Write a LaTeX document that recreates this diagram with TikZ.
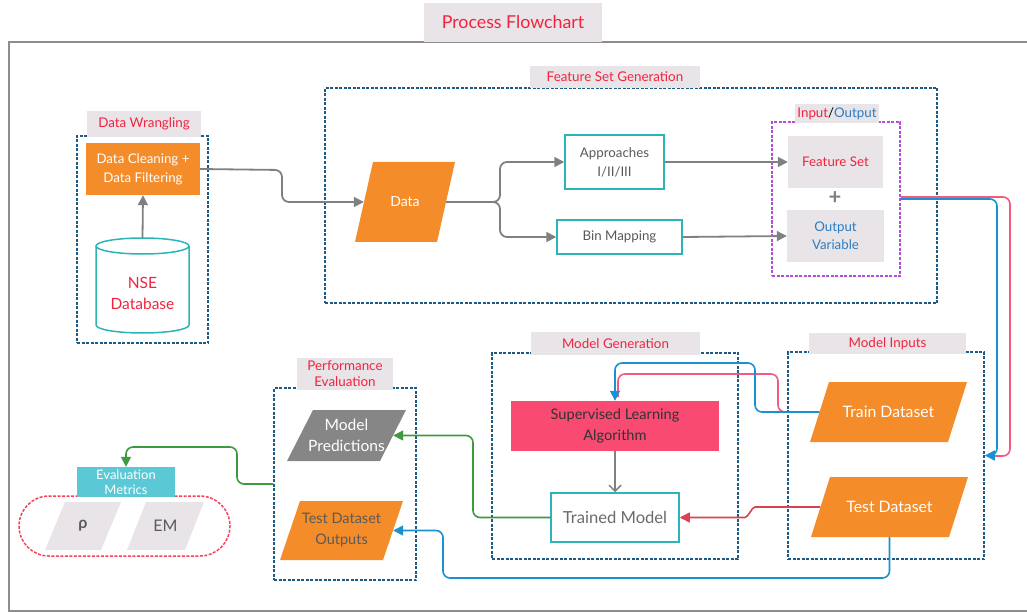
\documentclass[tikz,border=0pt]{standalone}
\usepackage{fontspec}
\setmainfont{Lato}
\usetikzlibrary{shapes.geometric,arrows.meta,calc}
\definecolor{dashblue}{HTML}{1D5A85}
\definecolor{orng}{HTML}{F48C2A}
\definecolor{tealc}{HTML}{2BB5B8}
\definecolor{lgray}{HTML}{E8E4E8}
\definecolor{redt}{HTML}{F2233F}
\definecolor{bluet}{HTML}{2D7DC4}
\definecolor{purp}{HTML}{B24FD6}
\definecolor{slafill}{HTML}{F94A72}
\definecolor{greenl}{HTML}{3E9A3E}
\definecolor{bluel}{HTML}{1A91D1}
\definecolor{pinkl}{HTML}{F45A7D}
\definecolor{redl}{HTML}{D9424F}
\definecolor{cyanc}{HTML}{5BC8D5}
\definecolor{grayl}{HTML}{808080}
\definecolor{txtg}{HTML}{5A5A5A}
\newcommand{\fs}[2]{\fontsize{#1}{#2}\selectfont}
\tikzset{
  dashbox/.style={draw=dashblue, line width=1.5pt, dash pattern=on 3pt off 1.5pt, inner sep=0pt},
  lblbox/.style={fill=lgray, text=redt, inner sep=0pt, font=\fs{13.4}{16}, align=center},
  para/.style 2 args={inner sep=0pt, align=center, path picture={
     \fill[#1] (path picture bounding box.south west) -- ([xshift=#2]path picture bounding box.north west)
       -- (path picture bounding box.north east) -- ([xshift=-#2]path picture bounding box.south east) -- cycle;}},
  tealbox/.style={draw=tealc, line width=1.5pt, fill=white, inner sep=0pt, align=center, text=txtg},
  gline/.style={draw=grayl, line width=1.8pt, rounded corners=7pt},
  garrow/.style={gline, -{Triangle[length=10pt,width=10pt]}},
  tip/.style={-{Triangle[length=10pt,width=10pt]}},
}
\begin{document}
\begin{tikzpicture}[x=1pt,y=-1pt]
\useasboundingbox (0,0) rectangle (1027,612);
% outer frame
\draw[draw=grayl!90, line width=2pt] (1030,42) -- (9,42) -- (9,611) -- (1030,611);
\node[fill=lgray, text=redt, inner sep=0pt, minimum width=178, minimum height=39, font=\fs{17.8}{20}] (title) at (513,22.5) {Process Flowchart};

% Feature Set Generation
\node[dashbox, minimum width=612, minimum height=215] (fsg) at (631,195.5) {};
\node[lblbox, minimum width=170, minimum height=22] (fsgl) at (615,77) {Feature Set Generation};

% Data Wrangling
\node[dashbox, minimum width=131, minimum height=207] (dw) at (142.5,239.5) {};
\node[lblbox, minimum width=114, minimum height=26] (dwl) at (144,124) {Data Wrangling};
\node[fill=orng, text=white, inner sep=0pt, minimum width=114, minimum height=52, align=center, font=\fs{13.3}{19}] (clean) at (143,169) {Data Cleaning +\\Data Filtering};
% cylinder
\draw[draw=tealc, line width=1.5pt, fill=white] (96,246) -- (96,325) arc[start angle=180, end angle=0, x radius=46.5, y radius=8] -- (189,246);
\draw[draw=tealc, line width=1.5pt, fill=white] (142.5,246) ellipse [x radius=46.5, y radius=8];
\coordinate (dbtop) at (142.5,238);
\node[text=redt, align=center, font=\fs{15.5}{21}] (db) at (142.5,293) {NSE\\Database};
\draw[garrow] (dbtop) -- (clean.south);

% Data and branches
\node[para={orng}{18pt}, text=white, minimum width=100, minimum height=80, font=\fs{14}{16}] (data) at (405,202) {Data};
\node[tealbox, minimum width=99, minimum height=54, font=\fs{13.3}{19}] (app) at (614.5,162) {Approaches\\I/II/III};
\node[tealbox, minimum width=125, minimum height=34, font=\fs{13.3}{15}] (bin) at (619.5,237) {Bin Mapping};
\draw[garrow] (clean.east) -- (282,170) |- ([xshift=9pt]data.west);
\draw[garrow] ([xshift=-9pt]data.east) -- (500,202) |- (app.west);
\draw[garrow] ([xshift=-9pt]data.east) -- (500,202) |- (bin.west);

% Input / Output
\node[draw=purp, line width=1.5pt, dash pattern=on 3pt off 1.5pt, minimum width=128, minimum height=154, inner sep=0pt] (io) at (836,199) {};
\node[fill=lgray, inner sep=0pt, minimum width=84, minimum height=19, font=\fs{13.3}{15}] (iol) at (837,113.5) {\textcolor{redt}{Input}/\textcolor{bluet}{Output}};
\node[fill=lgray, text=redt, inner sep=0pt, minimum width=95, minimum height=52, font=\fs{13.3}{15}] (fs) at (835.5,162) {Feature Set};
\node[fill=lgray, text=bluet, inner sep=0pt, minimum width=97, minimum height=52, align=center, font=\fs{13.3}{18}] (ov) at (835.5,236) {Output\\Variable};
\node[text=grayl, font=\fs{22}{22}\bfseries, inner sep=0pt] (plus) at (835,198) {+};
\draw[garrow] (app.east) -- (fs.west);
\draw[garrow] (bin.east) -- (ov.west);

% Model Inputs
\node[dashbox, minimum width=196, minimum height=207] (mi) at (886,455.5) {};
\node[lblbox, minimum width=157, minimum height=21] (mil) at (887.5,343.5) {Model Inputs};
\node[para={orng}{19pt}, text=white, minimum width=157, minimum height=60, font=\fs{15.8}{17}] (train) at (888.5,412) {Train Dataset};
\node[para={orng}{19pt}, text=white, minimum width=157, minimum height=60, font=\fs{15.8}{17}] (test) at (889.5,507) {Test Dataset};

% Model Generation
\node[dashbox, minimum width=246, minimum height=206] (mg) at (615,456) {};
\node[lblbox, minimum width=169, minimum height=23] (mgl) at (615.5,343.5) {Model Generation};
\node[fill=slafill, text=black!80, inner sep=0pt, minimum width=208, minimum height=50, align=center, font=\fs{14.6}{21}] (sla) at (615,426) {Supervised Learning\\Algorithm};
\node[tealbox, minimum width=128, minimum height=49, font=\fs{16.6}{18}, text=txtg!90] (tm) at (615,517.5) {Trained Model};
\draw[draw=grayl, line width=1.5pt, -{Straight Barb[length=6pt,width=12pt]}] (sla.south) -- (tm.north);

% Performance Evaluation
\node[dashbox, minimum width=142, minimum height=192] (pe) at (345,484) {};
\node[lblbox, minimum width=96, minimum height=32, font=\fs{13.4}{16}] (pel) at (345,374) {Performance\\Evaluation};
\node[para={grayl!95}{26pt}, text=white, minimum width=119, minimum height=51, font=\fs{15.6}{21}] (mp) at (346.5,435.5) {Model\\Predictions};
\node[para={orng}{20pt}, text=txtg, minimum width=123, minimum height=59, font=\fs{14.5}{21}] (tdo) at (341.5,530.5) {Test Dataset\\Outputs};

% Evaluation metrics
\node[draw=redt!85, line width=1.5pt, dash pattern=on 3pt off 1.5pt, rounded corners=30pt, minimum width=211, minimum height=60, inner sep=0pt] (metr) at (124.5,526) {};
\node[para={lgray}{20pt}, text=txtg, minimum width=76, minimum height=48, font=\fs{16}{18}\bfseries] (rho) at (83,526) {ρ};
\node[para={lgray}{19pt}, text=txtg, minimum width=77, minimum height=48, font=\fs{16}{18}] (em) at (165.5,526) {EM};
\node[fill=cyanc, text=white, inner sep=0pt, minimum width=98, minimum height=30, align=center, font=\fs{13}{15}] (emm) at (126,482) {Evaluation\\Metrics};

% connectors coloured
\draw[draw=pinkl, line width=1.6pt, rounded corners=7pt] ([yshift=2pt]io.east) -- (1010,197) -- (1010,456) -- (995,456);
\draw[draw=bluel, line width=1.6pt, rounded corners=7pt, tip] (io.east) -- (997,199) |- (mi.east);
\draw[draw=pinkl, line width=1.6pt, rounded corners=7pt] ([xshift=9.5pt]train.west) -- (778,412) -- (778,374) -- (618,374) -- (618,397);
\draw[draw=bluel, line width=1.6pt, rounded corners=7pt, tip] ([xshift=9.5pt]train.west) -- (755,412) |- (615,363) -- (sla.north);
\draw[draw=redl, line width=1.6pt, rounded corners=7pt, tip] ([xshift=9.5pt]test.west) -- (762,507) to[out=180,in=0] (738,517.5) -- (tm.east);
\draw[draw=bluel, line width=1.6pt, rounded corners=7pt, tip] (test.south) |- (443,578) |- ([xshift=-10pt]tdo.east);
\draw[draw=greenl, line width=1.6pt, rounded corners=7pt, tip] (tm.west) -- (473,517.5) |- ([xshift=-13pt]mp.east);
\draw[draw=greenl, line width=1.6pt, rounded corners=7pt, tip] (pe.west) -| (237,447) -| (emm.north);
\end{tikzpicture}
\end{document}
